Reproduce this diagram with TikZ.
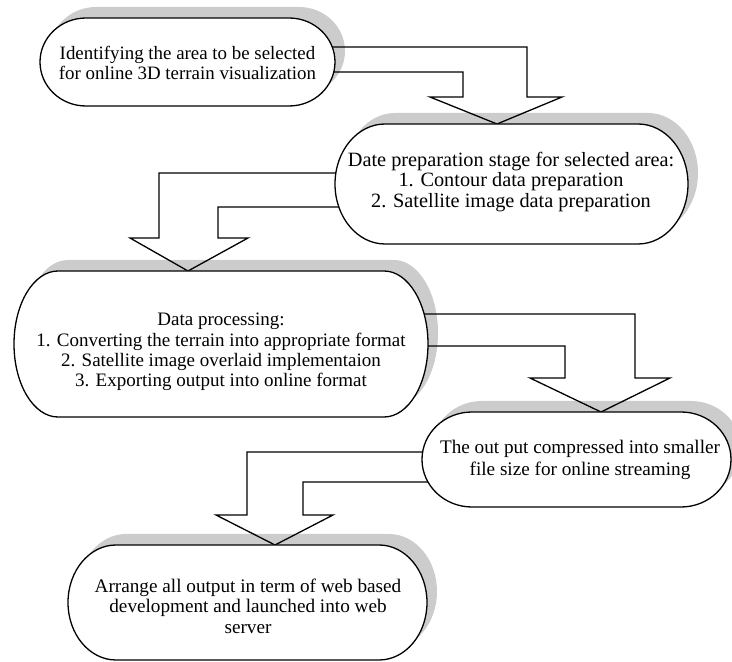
\documentclass[tikz,border=0pt]{standalone}
\usepackage{fontspec}
\setmainfont{Liberation Serif}
\pgfdeclarelayer{bg}
\pgfdeclarelayer{mid}
\pgfsetlayers{bg,mid,main}
\tikzset{
  shad/.style={fill=black!20},
  boxline/.style={draw=black, fill=white, line width=1.3pt},
  blk/.style={draw=black, line width=1.3pt, line join=miter},
  txt/.style={align=center, inner sep=0pt},
  fa/.style={font=\fontsize{18.9}{20.6}\selectfont},
  fb/.style={font=\fontsize{20.3}{20.7}\selectfont},
  fc/.style={font=\fontsize{19}{20.2}\selectfont},
  fd/.style={font=\fontsize{19.2}{21.6}\selectfont},
  fe/.style={font=\fontsize{19.2}{20.6}\selectfont}
}
% style, x1, y1 (bottom), x2, y2 (top), rx
\newcommand\stadium[6]{%
  \path[#1] (#2+#6,#5) -- (#4-#6,#5)
    arc[start angle=90,end angle=-90,x radius=#6pt,y radius={(#5-#3)/2*1pt}]
    -- (#2+#6,#3)
    arc[start angle=270,end angle=90,x radius=#6pt,y radius={(#5-#3)/2*1pt}]
    -- cycle;}
\begin{document}
\begin{tikzpicture}[x=1pt,y=1pt]
\useasboundingbox (0,0) rectangle (732,662);
% texts (named nodes)
\node[txt,fa] (b1) at (187.5,599) {Identifying the area to be selected\\for online 3D terrain visualization};
\node[txt,fb] (b2) at (511,480) {Date preparation stage for selected area:\\1. Contour data preparation\\2. Satellite image data preparation};
\node[txt,fc] (b3) at (221,310) {Data processing:\\1. Converting the terrain into appropriate format\\2. Satellite image overlaid implementaion\\3. Exporting output into online format};
\node[txt,fd] (b4) at (580,202) {The out put compressed into smaller\\file size for online streaming};
\node[txt,fe] (b5) at (248,56) {Arrange all output in term of web based\\development and launched into web\\server};
\coordinate (t2) at (497,538);
\coordinate (t3) at (188,391);
\coordinate (t4) at (601,250);
\coordinate (t5) at (275,117);
\begin{pgfonlayer}{bg}
  \stadium{shad,xshift=10pt,yshift=11pt}{40}{556}{335}{644}{46}
  \stadium{shad,xshift=10pt,yshift=11pt}{335}{418}{688}{538}{50}
  \stadium{shad,xshift=10pt,yshift=11pt}{14}{245}{428}{391}{44}
  \stadium{shad,xshift=10pt,yshift=11pt}{422}{155}{731}{250}{50}
  \stadium{shad,xshift=10pt,yshift=11pt}{68}{2}{427}{117}{48}
  % block arrows
  \draw[blk] (b1.center |- 0,615) -| (527,565) -- (562,565) -- (t2) -- (430,565) -- (463,565) |- (b1.center |- 0,590);
  \draw[blk] (b2.center |- 0,489) -| (159,424) -- (130,424) -- (t3) -- (248,424) -- (218,424) |- (b2.center |- 0,455);
  \draw[blk] (b3.center |- 0,348) -| (635,284) -- (670,284) -- (t4) -- (530,284) -- (565,284) |- (b3.center |- 0,316);
  \draw[blk] (b4.center |- 0,210) -| (247,147) -- (216,147) -- (t5) -- (333,147) -- (303,147) |- (b4.center |- 0,180);
\end{pgfonlayer}
\begin{pgfonlayer}{mid}
  \stadium{boxline}{40}{556}{335}{644}{46}
  \stadium{boxline}{335}{418}{688}{538}{50}
  \stadium{boxline}{14}{245}{428}{391}{44}
  \stadium{boxline}{422}{155}{731}{250}{50}
  \stadium{boxline}{68}{2}{427}{117}{48}
\end{pgfonlayer}
\end{tikzpicture}
\end{document}
